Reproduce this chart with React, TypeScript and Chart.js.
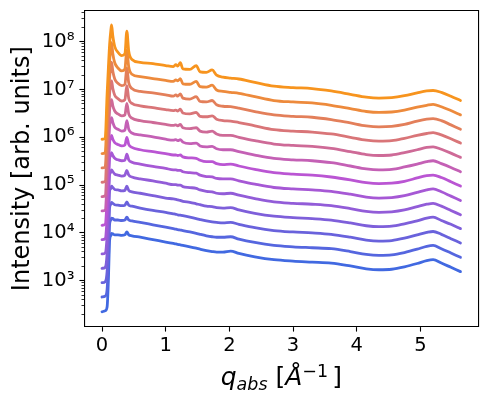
import React, { useEffect, useRef } from "react";
import { Chart, registerables } from "chart.js";

Chart.register(...registerables);

// q_abs grid (Å^-1), shared by all curves
const Q = [0, 0.05, 0.08, 0.10, 0.12, 0.14, 0.15, 0.17, 0.20, 0.25, 0.31, 0.36, 0.39, 0.42, 0.47, 0.60, 0.80, 1.00, 1.12, 1.16, 1.19, 1.23, 1.27, 1.38, 1.48, 1.54, 1.64, 1.73, 1.80, 1.90, 2.02, 2.15, 2.40, 2.70, 3.00, 3.30, 3.60, 3.90, 4.15, 4.35, 4.55, 4.75, 4.95, 5.10, 5.20, 5.33, 5.48, 5.63];

// log10(intensity), bottom (blue) curve first
const S00 = [2.35, 2.37, 2.45, 3.00, 3.85, 3.95, 3.99, 3.98, 3.96, 3.96, 3.95, 3.96, 4.02, 3.96, 3.94, 3.91, 3.86, 3.81, 3.78, 3.77, 3.76, 3.75, 3.74, 3.71, 3.68, 3.66, 3.63, 3.61, 3.60, 3.60, 3.62, 3.57, 3.50, 3.44, 3.41, 3.39, 3.37, 3.31, 3.25, 3.23, 3.24, 3.29, 3.36, 3.42, 3.44, 3.37, 3.28, 3.19];
const S01 = [2.66, 2.68, 2.82, 3.37, 4.19, 4.27, 4.31, 4.30, 4.27, 4.27, 4.26, 4.27, 4.33, 4.27, 4.25, 4.22, 4.17, 4.12, 4.09, 4.08, 4.07, 4.06, 4.05, 4.02, 3.99, 3.97, 3.94, 3.92, 3.91, 3.91, 3.92, 3.87, 3.80, 3.74, 3.71, 3.69, 3.67, 3.61, 3.55, 3.53, 3.54, 3.59, 3.66, 3.72, 3.74, 3.67, 3.58, 3.49];
const S02 = [2.96, 2.98, 3.19, 3.74, 4.53, 4.60, 4.64, 4.62, 4.59, 4.58, 4.57, 4.58, 4.65, 4.58, 4.56, 4.52, 4.47, 4.43, 4.40, 4.39, 4.38, 4.37, 4.36, 4.33, 4.30, 4.28, 4.25, 4.23, 4.22, 4.21, 4.22, 4.18, 4.11, 4.05, 4.02, 4.00, 3.97, 3.91, 3.85, 3.83, 3.84, 3.89, 3.96, 4.01, 4.03, 3.97, 3.88, 3.79];
const S03 = [3.26, 3.28, 3.56, 4.11, 4.88, 4.93, 4.98, 4.95, 4.91, 4.90, 4.88, 4.89, 4.98, 4.89, 4.86, 4.83, 4.78, 4.73, 4.71, 4.70, 4.69, 4.68, 4.66, 4.64, 4.61, 4.59, 4.56, 4.55, 4.53, 4.52, 4.53, 4.48, 4.41, 4.35, 4.32, 4.30, 4.27, 4.21, 4.15, 4.13, 4.14, 4.19, 4.25, 4.31, 4.33, 4.26, 4.18, 4.09];
const S04 = [3.56, 3.58, 3.93, 4.48, 5.22, 5.27, 5.32, 5.28, 5.23, 5.21, 5.19, 5.21, 5.31, 5.21, 5.17, 5.13, 5.09, 5.04, 5.01, 5.01, 5.00, 5.00, 4.97, 4.95, 4.93, 4.90, 4.87, 4.86, 4.83, 4.82, 4.83, 4.79, 4.72, 4.65, 4.62, 4.60, 4.57, 4.51, 4.45, 4.43, 4.44, 4.48, 4.55, 4.60, 4.62, 4.56, 4.47, 4.38];
const S05 = [3.86, 3.88, 4.30, 4.85, 5.56, 5.62, 5.68, 5.62, 5.56, 5.53, 5.51, 5.52, 5.65, 5.53, 5.48, 5.44, 5.39, 5.35, 5.32, 5.32, 5.31, 5.31, 5.28, 5.26, 5.25, 5.21, 5.18, 5.17, 5.14, 5.13, 5.13, 5.09, 5.02, 4.95, 4.92, 4.90, 4.87, 4.81, 4.75, 4.73, 4.74, 4.78, 4.85, 4.90, 4.92, 4.86, 4.77, 4.68];
const S06 = [4.16, 4.18, 4.68, 5.23, 5.90, 5.98, 6.04, 5.96, 5.89, 5.85, 5.82, 5.84, 6.00, 5.85, 5.79, 5.74, 5.70, 5.66, 5.63, 5.63, 5.62, 5.63, 5.59, 5.57, 5.56, 5.52, 5.49, 5.49, 5.45, 5.43, 5.44, 5.40, 5.33, 5.26, 5.23, 5.21, 5.17, 5.11, 5.05, 5.03, 5.04, 5.08, 5.15, 5.20, 5.21, 5.16, 5.07, 4.98];
const S07 = [4.46, 4.48, 5.05, 5.60, 6.24, 6.34, 6.41, 6.31, 6.21, 6.17, 6.13, 6.15, 6.35, 6.17, 6.09, 6.05, 6.01, 5.96, 5.94, 5.95, 5.93, 5.95, 5.90, 5.87, 5.88, 5.82, 5.80, 5.81, 5.76, 5.74, 5.74, 5.70, 5.63, 5.56, 5.53, 5.51, 5.47, 5.40, 5.34, 5.32, 5.33, 5.38, 5.44, 5.49, 5.51, 5.45, 5.37, 5.28];
const S08 = [4.76, 4.78, 5.42, 5.97, 6.58, 6.71, 6.79, 6.66, 6.55, 6.49, 6.45, 6.47, 6.71, 6.49, 6.40, 6.35, 6.31, 6.27, 6.25, 6.26, 6.24, 6.27, 6.20, 6.18, 6.20, 6.13, 6.11, 6.13, 6.07, 6.04, 6.04, 6.00, 5.93, 5.86, 5.83, 5.81, 5.77, 5.70, 5.64, 5.62, 5.63, 5.68, 5.74, 5.79, 5.80, 5.75, 5.67, 5.58];
const S09 = [5.06, 5.08, 5.79, 6.34, 6.93, 7.08, 7.18, 7.02, 6.88, 6.81, 6.76, 6.79, 7.08, 6.81, 6.71, 6.66, 6.62, 6.58, 6.56, 6.57, 6.55, 6.59, 6.51, 6.49, 6.52, 6.44, 6.43, 6.45, 6.38, 6.35, 6.34, 6.31, 6.24, 6.16, 6.13, 6.11, 6.07, 6.00, 5.94, 5.92, 5.93, 5.98, 6.04, 6.08, 6.10, 6.05, 5.97, 5.88];
const S10 = [5.36, 5.38, 6.16, 6.71, 7.27, 7.46, 7.57, 7.38, 7.22, 7.13, 7.08, 7.11, 7.45, 7.14, 7.02, 6.96, 6.93, 6.89, 6.86, 6.89, 6.86, 6.91, 6.82, 6.80, 6.85, 6.75, 6.74, 6.77, 6.68, 6.65, 6.64, 6.61, 6.54, 6.47, 6.44, 6.42, 6.37, 6.30, 6.24, 6.22, 6.23, 6.27, 6.34, 6.38, 6.39, 6.35, 6.26, 6.17];
const S11 = [5.66, 5.68, 6.53, 7.08, 7.61, 7.85, 7.98, 7.75, 7.56, 7.45, 7.39, 7.43, 7.83, 7.47, 7.32, 7.27, 7.23, 7.19, 7.17, 7.20, 7.18, 7.23, 7.12, 7.11, 7.17, 7.06, 7.05, 7.09, 6.99, 6.96, 6.94, 6.92, 6.85, 6.77, 6.74, 6.72, 6.67, 6.60, 6.54, 6.52, 6.53, 6.57, 6.63, 6.67, 6.69, 6.64, 6.56, 6.47];
const S12 = [5.96, 5.98, 6.90, 7.45, 7.95, 8.25, 8.35, 8.12, 7.90, 7.78, 7.71, 7.75, 8.22, 7.80, 7.63, 7.57, 7.54, 7.50, 7.48, 7.52, 7.49, 7.56, 7.43, 7.42, 7.50, 7.37, 7.36, 7.41, 7.30, 7.26, 7.24, 7.22, 7.15, 7.07, 7.04, 7.02, 6.97, 6.90, 6.84, 6.82, 6.83, 6.87, 6.93, 6.97, 6.98, 6.94, 6.86, 6.77];

const SERIES_LOG = [S00, S01, S02, S03, S04, S05, S06, S07, S08, S09, S10, S11, S12];
const SERIES_COLORS = [
  "rgb(65,105,225)", "rgb(85,102,223)", "rgb(105,98,220)", "rgb(126,95,218)",
  "rgb(146,92,216)", "rgb(166,88,213)", "rgb(186,85,211)", "rgb(196,96,181)",
  "rgb(206,106,151)", "rgb(217,117,120)", "rgb(227,127,90)", "rgb(237,138,60)",
  "rgb(247,148,30)",
];

const X_TICKS = [0, 1, 2, 3, 4, 5];
const X_MIN = -0.278;
const X_MAX = 5.91;
const Y_MIN = 109.2;
const Y_MAX = 4.456e8;
const Y_MAJOR = [1e3, 1e4, 1e5, 1e6, 1e7, 1e8];
const Y_MAJOR_LABELS = ["10³", "10⁴", "10⁵", "10⁶", "10⁷", "10⁸"];
const Y_DECADES = [1e2, 1e3, 1e4, 1e5, 1e6, 1e7, 1e8];
const Y_MINOR_MULT = [2, 3, 4, 5, 6, 7, 8, 9];
const Y_TITLE = "Intensity [arb. units]";
const X_TITLE_PARTS = [
  { t: "q", it: true, size: 25, dy: 0, gap: 0 },
  { t: "abs", it: true, size: 17.5, dy: 4.5, gap: 0 },
  { t: " [", it: false, size: 25, dy: 0, gap: 0 },
  { t: "Å", it: true, size: 25, dy: 0, gap: 0 },
  { t: "−1", it: false, size: 17.5, dy: -8.3, gap: 4 },
  { t: "]", it: false, size: 25, dy: 0, gap: 0 },
];

const FONT = "'DejaVu Sans', sans-serif";
const AREA = { left: 84.3, top: 10.7, right: 478.3, bottom: 326.7 };
const W = 487;
const H = 403;

const isMajor = (v: number) => Y_MAJOR.some((m) => Math.abs(m - v) / m < 1e-6);

const noPad = (s: any) => {
  s.paddingTop = 0;
  s.paddingBottom = 0;
  s.paddingLeft = 0;
  s.paddingRight = 0;
};

const titlesPlugin = {
  id: "titles",
  afterDraw(chart: any) {
    const c = chart.ctx as CanvasRenderingContext2D;
    const area = chart.chartArea;
    c.save();
    c.fillStyle = "#000";
    c.translate(28.5, (area.top + area.bottom) / 2);
    c.rotate(-Math.PI / 2);
    c.font = `24px ${FONT}`;
    c.textAlign = "center";
    c.textBaseline = "alphabetic";
    c.fillText(Y_TITLE, 0, 0);
    c.restore();

    c.save();
    c.fillStyle = "#000";
    c.textBaseline = "alphabetic";
    c.textAlign = "left";
    const fontOf = (p: any) => `${p.it ? "italic " : ""}${p.size}px ${FONT}`;
    let total = 0;
    const widths = X_TITLE_PARTS.map((p) => {
      c.font = fontOf(p);
      const w = c.measureText(p.t).width + p.gap;
      total += w;
      return w;
    });
    let x = (area.left + area.right) / 2 - total / 2;
    const base = 385;
    X_TITLE_PARTS.forEach((p, i) => {
      c.font = fontOf(p);
      c.fillText(p.t, x, base + p.dy);
      x += widths[i];
    });
    c.restore();
  },
};

export default function App() {
  const ref = useRef<HTMLCanvasElement>(null);
  useEffect(() => {
    const canvas = ref.current;
    if (!canvas) return;
    const datasets = SERIES_LOG.map((arr, i) => ({
      label: `curve ${i}`,
      data: arr.map((v, j) => ({ x: Q[j], y: Math.pow(10, v) })),
      borderColor: SERIES_COLORS[i],
      backgroundColor: SERIES_COLORS[i],
      borderWidth: 2.8,
      pointRadius: 0,
      fill: false,
      cubicInterpolationMode: "monotone" as const,
      borderJoinStyle: "round" as const,
      borderCapStyle: "round" as const,
    })).reverse();

    const yTicks: number[] = [];
    Y_DECADES.forEach((d) => {
      if (d >= Y_MIN && d <= Y_MAX) yTicks.push(d);
      Y_MINOR_MULT.forEach((m) => {
        const v = d * m;
        if (v >= Y_MIN && v <= Y_MAX) yTicks.push(v);
      });
    });
    yTicks.sort((a, b) => a - b);

    const chart = new Chart(canvas, {
      type: "line",
      data: { datasets },
      options: {
        animation: false,
        responsive: false,
        devicePixelRatio: 1,
        layout: { padding: { top: AREA.top, right: W - AREA.right, left: 0, bottom: 0 } },
        plugins: { legend: { display: false }, tooltip: { enabled: false } },
        scales: {
          x: {
            type: "linear",
            position: "bottom",
            min: X_MIN,
            max: X_MAX,
            afterBuildTicks: (s: any) => {
              s.ticks = X_TICKS.map((v) => ({ value: v }));
            },
            afterFit: (s: any) => {
              s.height = H - AREA.bottom;
              noPad(s);
            },
            ticks: {
              autoSkip: false,
              maxRotation: 0,
              color: "#000",
              padding: 3,
              font: { family: FONT, size: 19.5 },
              callback: (v: any) => String(v),
            },
            grid: {
              drawOnChartArea: false,
              drawTicks: true,
              tickLength: 4.9,
              tickColor: "#000",
              tickWidth: 1.1,
            },
            border: { display: true, color: "#000", width: 1.1 },
          },
          xTop: {
            type: "linear",
            position: "top",
            min: X_MIN,
            max: X_MAX,
            ticks: { display: false },
            grid: { display: false, drawTicks: false },
            border: { display: true, color: "#000", width: 1.1 },
            afterFit: (s: any) => {
              s.height = 0;
              noPad(s);
            },
          },
          y: {
            type: "logarithmic",
            position: "left",
            min: Y_MIN,
            max: Y_MAX,
            afterBuildTicks: (s: any) => {
              s.ticks = yTicks.map((v) => ({ value: v }));
            },
            afterFit: (s: any) => {
              s.width = AREA.left;
              noPad(s);
            },
            ticks: {
              autoSkip: false,
              color: "#000",
              padding: 4.9,
              font: { family: FONT, size: 19.5 },
              callback: (v: any) => {
                const k = Y_MAJOR.findIndex((m) => Math.abs(m - v) / m < 1e-6);
                return k >= 0 ? Y_MAJOR_LABELS[k] : "";
              },
            },
            grid: {
              drawOnChartArea: false,
              drawTicks: true,
              tickLength: 4.9,
              tickColor: "#000",
              tickWidth: (ctx: any) => (ctx.tick && isMajor(ctx.tick.value) ? 1.1 : 0.8),
              tickBorderDash: (ctx: any) => (ctx.tick && isMajor(ctx.tick.value) ? [] : [0, 2.1, 2.8, 100]),
            },
            border: { display: true, color: "#000", width: 1.1 },
          },
          yRight: {
            type: "logarithmic",
            position: "right",
            min: Y_MIN,
            max: Y_MAX,
            ticks: { display: false },
            grid: { display: false, drawTicks: false },
            border: { display: true, color: "#000", width: 1.1 },
            afterFit: (s: any) => {
              s.width = 0;
              noPad(s);
            },
          },
        },
      } as any,
      plugins: [titlesPlugin],
    });
    return () => chart.destroy();
  }, []);

  return (
    <div style={{ position: "absolute", left: 0, top: 0, width: W, height: H, background: "#fff" }}>
      <canvas ref={ref} width={W} height={H} style={{ width: W, height: H, display: "block" }} />
    </div>
  );
}
